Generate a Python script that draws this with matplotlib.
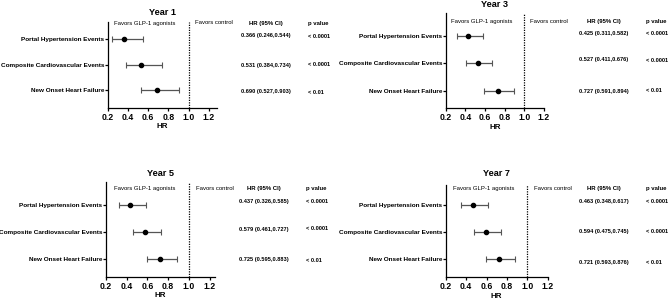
import matplotlib
matplotlib.use("Agg")
import matplotlib.pyplot as plt
import matplotlib.transforms as mtransforms
import numpy as np

plt.rcParams["font.family"] = ["Liberation Sans", "DejaVu Sans"]

# --- data -------------------------------------------------------------------
outcomes = [
    "Portal Hypertension Events",
    "Composite Cardiovascular Events",
    "New Onset Heart Failure",
]
years = ["Year 1", "Year 3", "Year 5", "Year 7"]

hr_year1 = [0.366, 0.531, 0.690]
lo_year1 = [0.246, 0.384, 0.527]
hi_year1 = [0.544, 0.734, 0.903]

hr_year3 = [0.425, 0.527, 0.727]
lo_year3 = [0.311, 0.411, 0.591]
hi_year3 = [0.582, 0.676, 0.894]

hr_year5 = [0.437, 0.579, 0.725]
lo_year5 = [0.326, 0.461, 0.595]
hi_year5 = [0.585, 0.727, 0.883]

hr_year7 = [0.463, 0.594, 0.721]
lo_year7 = [0.348, 0.475, 0.593]
hi_year7 = [0.617, 0.745, 0.876]

p_values = ["< 0.0001", "< 0.0001", "< 0.01"]
x_ticks = [0.2, 0.4, 0.6, 0.8, 1.0, 1.2]

hr_all = [hr_year1, hr_year3, hr_year5, hr_year7]
lo_all = [lo_year1, lo_year3, lo_year5, lo_year7]
hi_all = [hi_year1, hi_year3, hi_year5, hi_year7]

# --- layout (pixel positions on the 669x300 canvas, y from top) -------------
W, H = 669, 300
panels = [
    # left, right, top, bottom, xmax, row px, title y, favors y, value y px
    dict(L=107.7, R=217, T=21.7, B=107.7, xmax=1.28, rows=(39.3, 65, 90.3),
         title=12.3, fav=23, vals=(36, 65, 92)),
    dict(L=445.7, R=544, T=13.3, B=108.3, xmax=1.2, rows=(36, 63.3, 90.7),
         title=4.5, fav=21.3, vals=(33.3, 60, 91)),
    dict(L=105.7, R=215, T=181.7, B=276.7, xmax=1.25, rows=(205, 231.7, 259),
         title=173.3, fav=188.3, vals=(201.7, 229, 260)),
    dict(L=445.7, R=547.7, T=185, B=277.3, xmax=1.2, rows=(205, 231.7, 259),
         title=173.3, fav=188.3, vals=(201.7, 231.7, 262.7)),
]

fig = plt.figure(figsize=(W / 100, H / 100), dpi=100)


def fx(px):
    return px / W


def fy(py):
    return 1 - py / H


for i, lay in enumerate(panels):
    ax = fig.add_axes([fx(lay["L"]), fy(lay["B"]),
                       (lay["R"] - lay["L"]) / W, (lay["B"] - lay["T"]) / H])
    hr = np.array(hr_all[i])
    lo = np.array(lo_all[i])
    hi = np.array(hi_all[i])
    ypos = np.arange(len(outcomes))[::-1] + 1  # 3, 2, 1 top to bottom

    r0, _, r2 = lay["rows"]
    step = (r2 - r0) / 2
    ax.set_ylim(1 - (lay["B"] - r2) / step, 3 + (r0 - lay["T"]) / step)
    ax.set_xlim(0.2, lay["xmax"])

    ax.errorbar(hr, ypos, xerr=[hr - lo, hi - hr], fmt="o", color="black",
                ecolor="#555555", elinewidth=0.9, capsize=2, capthick=0.8,
                markersize=3.0, zorder=3)
    ax.axvline(1.0, color="black", linestyle=(0, (1, 1)), linewidth=0.9)

    ax.set_xticks(x_ticks)
    ax.set_xticklabels([f"{t:.1f}" for t in x_ticks], fontsize=6.2,
                       fontweight="bold")
    ax.set_yticks(ypos)
    ax.set_yticklabels(outcomes, fontsize=4.6, fontweight="bold")
    ax.tick_params(axis="x", length=2.2, width=0.9, pad=1.5, color="black")
    ax.tick_params(axis="y", length=2.2, width=0.9, pad=0.4, color="black")
    ax.set_xlabel("HR", fontsize=5.8, fontweight="bold", labelpad=1)
    for side in ("top", "right"):
        ax.spines[side].set_visible(False)
    for side in ("left", "bottom"):
        ax.spines[side].set_linewidth(0.9)

    # title
    fig.text(fx((lay["L"] + lay["R"]) / 2), fy(lay["title"]), years[i],
             ha="center", va="center", fontsize=6.6, fontweight="bold")

    # header row
    hdr = mtransforms.blended_transform_factory(ax.transData, fig.transFigure)
    ax.text(0.57, fy(lay["fav"]), "Favors GLP-1 agonists", transform=hdr,
            ha="center", va="center", fontsize=4.3)
    ax.text(1.25, fy(lay["fav"]), "Favors control", transform=hdr,
            ha="center", va="center", fontsize=4.3, clip_on=False)
    fig.text(fx(lay["L"] + 141), fy(lay["fav"]), "HR (95% CI)",
             ha="left", va="center", fontsize=4.3, fontweight="bold")
    fig.text(fx(lay["L"] + 200), fy(lay["fav"]), "p value",
             ha="left", va="center", fontsize=4.3, fontweight="bold")

    # value columns
    for k in range(len(outcomes)):
        label = f"{hr[k]:.3f} ({lo[k]:.3f},{hi[k]:.3f})"
        fig.text(fx(lay["L"] + 133), fy(lay["vals"][k]), label,
                 ha="left", va="center", fontsize=4.1, fontweight="bold")
        fig.text(fx(lay["L"] + 200), fy(lay["vals"][k]), p_values[k],
                 ha="left", va="center", fontsize=4.1, fontweight="bold")

fig.savefig("out.png", dpi=100, facecolor="white")
